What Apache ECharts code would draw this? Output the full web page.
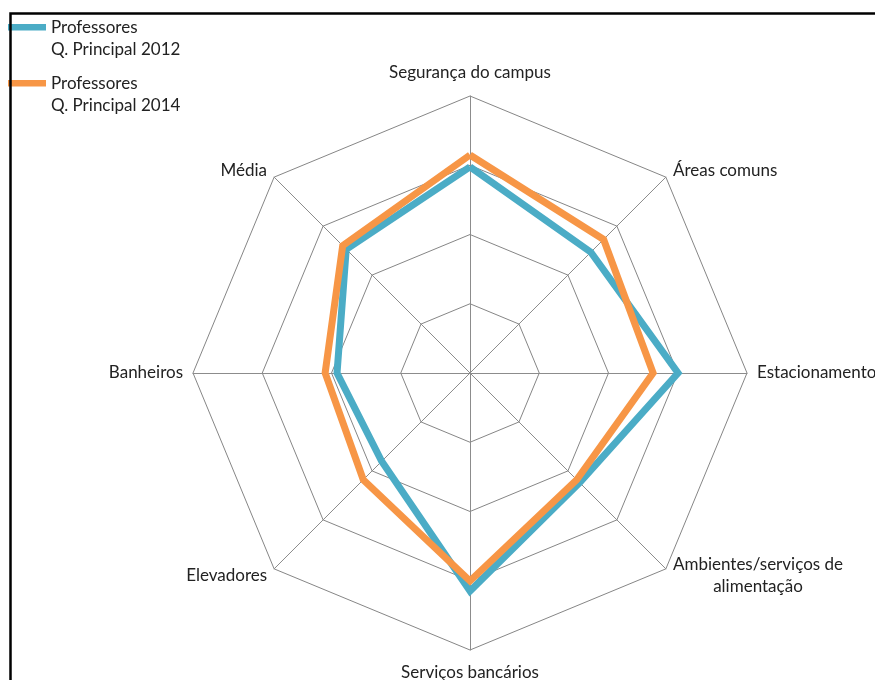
<!DOCTYPE html>
<html>
<head>
<meta charset="utf-8">
<script src="https://cdn.jsdelivr.net/npm/echarts@6/dist/echarts.min.js"></script>
<style>
  html, body { margin: 0; padding: 0; background: #fff; }
  #chart { width: 875px; height: 680px; }
</style>
</head>
<body>
<div id="chart"></div>
<script>
// Radar axes, in counter-clockwise order starting from the top
const categories = [
  'Segurança do campus',
  'Média',
  'Banheiros',
  'Elevadores',
  'Serviços bancários',
  'Ambientes/serviços de\nalimentação',
  'Estacionamento',
  'Áreas comuns'
];

const seriesNames = ['Professores\nQ. Principal 2012', 'Professores\nQ. Principal 2014'];

// Scores per axis, same order as categories
const values2012 = [74.4, 63.2, 48.0, 45.1, 78.7, 56.0, 75.1, 61.7];
const values2014 = [78.7, 65.0, 52.3, 54.5, 75.1, 54.5, 66.1, 68.2];

const axisMax = 100;
const colors = ['#4BACC6', '#F79646'];
const FONT = 'Lato, "Open Sans", sans-serif';
const FONT_SIZE = 17;

const chart = echarts.init(document.getElementById('chart'), null, { renderer: 'canvas' });

chart.setOption({
  animation: false,
  backgroundColor: '#ffffff',
  color: colors,
  legend: {
    orient: 'vertical',
    left: 8,
    top: 16,
    padding: 0,
    itemGap: 11,
    itemWidth: 38,
    itemHeight: 45,
    // thick bar aligned with the first text line
    icon: 'path://M0,8H38V14.5H0Z M0,0L0,0 M0,45L0,45',
    textStyle: {
      fontFamily: FONT,
      fontSize: FONT_SIZE,
      color: '#222',
      lineHeight: 22.5
    },
    data: seriesNames
  },
  radar: {
    center: [470, 373],
    radius: 277,
    startAngle: 90,
    splitNumber: 4,
    shape: 'polygon',
    nameGap: 10,
    axisName: {
      color: '#222',
      fontFamily: FONT,
      fontSize: FONT_SIZE,
      lineHeight: 26,
      formatter: function (name) {
        if (name.indexOf('\n') >= 0) {
          return name.split('\n').map(function (s) { return '{c|' + s + '}'; }).join('\n');
        }
        return name;
      },
      rich: {
        c: { align: 'center', fontFamily: FONT, fontSize: FONT_SIZE, color: '#222', lineHeight: 22 }
      }
    },
    axisLine: { lineStyle: { color: '#8c8c8c', width: 1 } },
    splitLine: { lineStyle: { color: '#868686', width: 1 } },
    splitArea: { show: false },
    indicator: categories.map(function (c) { return { name: c, min: 0, max: axisMax }; })
  },
  series: [{
    type: 'radar',
    symbol: 'none',
    data: [
      { name: seriesNames[0], value: values2012,
        lineStyle: { color: colors[0], width: 7, join: 'miter' } },
      { name: seriesNames[1], value: values2014,
        lineStyle: { color: colors[1], width: 7, join: 'miter' } }
    ]
  }],
  graphic: [{
    type: 'rect',
    z: 100,
    silent: true,
    shape: { x: 10.5, y: 13.5, width: 900, height: 700 },
    style: { fill: 'none', stroke: '#000', lineWidth: 2.5 }
  }]
});
</script>
</body>
</html>
